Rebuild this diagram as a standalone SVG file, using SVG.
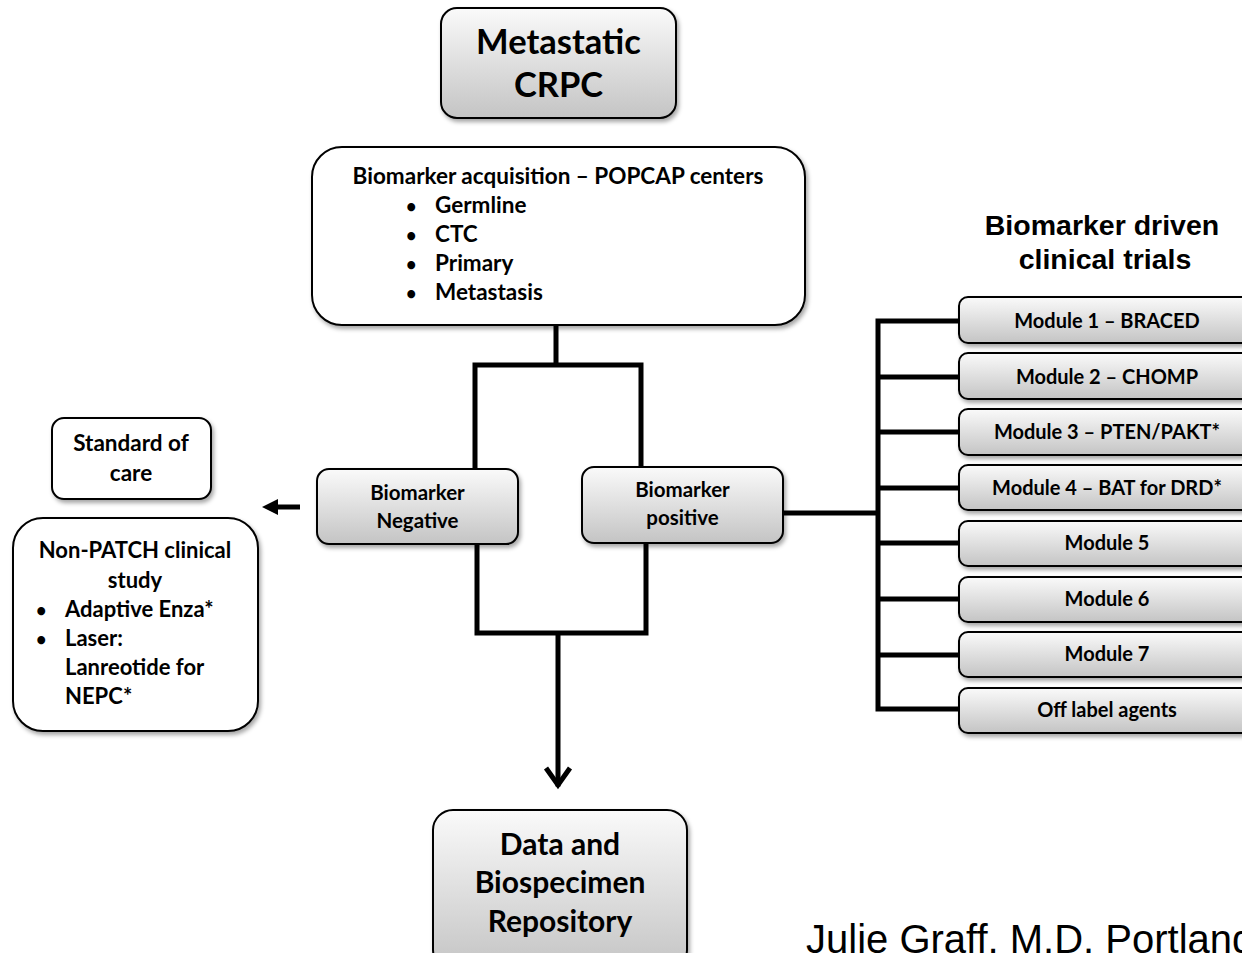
<svg xmlns="http://www.w3.org/2000/svg" width="1242" height="953" viewBox="0 0 1242 953">
<style>
.box{stroke:#000;stroke-width:2;filter:url(#sh)}
.g{fill:url(#grad)}
.w{fill:#fff}
.t{font-family:Lato,"Liberation Sans",sans-serif;font-weight:bold;fill:#000;text-anchor:middle}
.tl{font-family:Lato,"Liberation Sans",sans-serif;font-weight:bold;fill:#000}
.ln{stroke:#000;stroke-width:5;fill:none;stroke-linecap:square}
.ar{font-family:"Liberation Sans",Arial,sans-serif;fill:#000}
</style>
<defs>
<linearGradient id="grad" x1="0" y1="0" x2="0" y2="1">
<stop offset="0" stop-color="#fafafa"/>
<stop offset="1" stop-color="#c4c4c4"/>
</linearGradient>
<filter id="sh" x="-10%" y="-10%" width="130%" height="140%">
<feDropShadow dx="2" dy="3" stdDeviation="2" flood-color="#000" flood-opacity="0.35"/>
</filter>
</defs>
<rect width="1242" height="953" fill="#fff"/>

<g id="connectors">
<path class="ln" d="M556 326 V365 M475 365 H641 M475 365 V468 M641 365 V466"/>
<path class="ln" d="M477 545 V633 H646 V544 M558 633 V784"/>
<path d="M546 768 L558 785 L570 768" fill="none" stroke="#000" stroke-width="5"/>
<path class="ln" d="M784 513 H878 M878 321 V709 M878 321 H958 M878 377 H958 M878 432 H958 M878 488 H958 M878 543 H958 M878 599 H958 M878 655 H958 M878 709 H958"/>
<path d="M300 507 H276" stroke="#000" stroke-width="5"/>
<path d="M262 507 L278 499 L278 515 Z" fill="#000"/>
</g>

<g id="metastatic-crpc">
<rect class="box g" x="441" y="8" width="235" height="110" rx="16"/>
<text class="t" x="558.5" y="54" font-size="34.5">Metastatic</text>
<text class="t" x="558.5" y="97" font-size="34.5">CRPC</text>
</g>

<g id="biomarker-acquisition">
<rect class="box w" x="312" y="147" width="493" height="178" rx="30"/>
<text class="t" x="558" y="184" font-size="22.5">Biomarker acquisition – POPCAP centers</text>
<g class="tl" font-size="22.5">
<text x="406" y="213" font-size="18">•</text><text x="435" y="213">Germline</text>
<text x="406" y="242" font-size="18">•</text><text x="435" y="242">CTC</text>
<text x="406" y="271" font-size="18">•</text><text x="435" y="271">Primary</text>
<text x="406" y="300" font-size="18">•</text><text x="435" y="300">Metastasis</text>
</g>
</g>

<g id="biomarker-negative">
<rect class="box g" x="317" y="469" width="201" height="75" rx="12"/>
<text class="t" x="417.5" y="500" font-size="20.5">Biomarker</text>
<text class="t" x="417.5" y="528" font-size="20.5">Negative</text>
</g>

<g id="biomarker-positive">
<rect class="box g" x="582" y="467" width="201" height="76" rx="12"/>
<text class="t" x="682.5" y="497" font-size="20.5">Biomarker</text>
<text class="t" x="682.5" y="525" font-size="20.5">positive</text>
</g>

<g id="standard-of-care">
<rect class="box w" x="52" y="418" width="159" height="81" rx="12"/>
<text class="t" x="131" y="451" font-size="22.5">Standard of</text>
<text class="t" x="131" y="481" font-size="22.5">care</text>
</g>

<g id="non-patch">
<rect class="box w" x="13" y="518" width="245" height="213" rx="30"/>
<text class="t" x="135" y="558" font-size="22">Non-PATCH  clinical</text>
<text class="t" x="135" y="588" font-size="22">study</text>
<g class="tl" font-size="22">
<text x="36" y="617" font-size="18">•</text><text x="65" y="617">Adaptive Enza*</text>
<text x="36" y="646" font-size="18">•</text><text x="65" y="646">Laser:</text>
<text x="65" y="675">Lanreotide for</text>
<text x="65" y="704">NEPC*</text>
</g>
</g>

<g id="trials-title">
<text class="ar" x="1102" y="235" font-weight="bold" font-size="28.5" text-anchor="middle">Biomarker driven</text>
<text class="ar" x="1105" y="269" font-weight="bold" font-size="28.5" text-anchor="middle">clinical trials</text>
</g>

<g id="module-1"><rect class="box g" x="959" y="297" width="300" height="46" rx="9"/><text class="t" x="1107" y="328" font-size="20">Module 1 – BRACED</text></g>
<g id="module-2"><rect class="box g" x="959" y="353" width="300" height="46" rx="9"/><text class="t" x="1107" y="384" font-size="20">Module 2 – CHOMP</text></g>
<g id="module-3"><rect class="box g" x="959" y="409" width="300" height="46" rx="9"/><text class="t" x="1107" y="439" font-size="20">Module 3 – PTEN/PAKT*</text></g>
<g id="module-4"><rect class="box g" x="959" y="465" width="300" height="45" rx="9"/><text class="t" x="1107" y="495" font-size="20">Module 4 – BAT for DRD*</text></g>
<g id="module-5"><rect class="box g" x="959" y="521" width="300" height="45" rx="9"/><text class="t" x="1107" y="550" font-size="20">Module 5</text></g>
<g id="module-6"><rect class="box g" x="959" y="577" width="300" height="45" rx="9"/><text class="t" x="1107" y="606" font-size="20">Module 6</text></g>
<g id="module-7"><rect class="box g" x="959" y="632" width="300" height="45" rx="9"/><text class="t" x="1107" y="661" font-size="20">Module 7</text></g>
<g id="off-label"><rect class="box g" x="959" y="688" width="300" height="45" rx="9"/><text class="t" x="1107" y="717" font-size="20">Off label agents</text></g>

<g id="repository">
<rect class="box g" x="433" y="810" width="254" height="160" rx="20"/>
<text class="t" x="560" y="855" font-size="30">Data and</text>
<text class="t" x="560" y="893" font-size="30">Biospecimen</text>
<text class="t" x="560" y="932" font-size="30">Repository</text>
</g>

<text class="ar" x="806" y="953" font-size="40">Julie Graff, M.D. Portland</text>
</svg>
